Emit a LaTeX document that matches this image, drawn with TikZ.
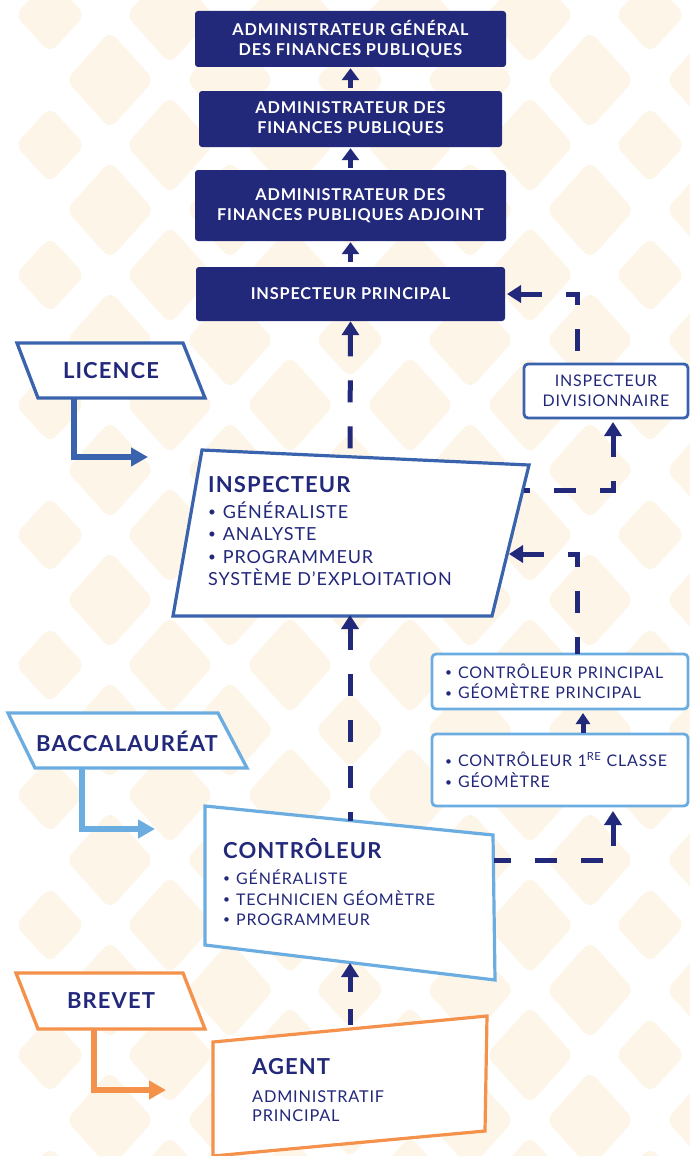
\documentclass[tikz,border=0pt]{standalone}
\usepackage{fontspec}
\usepackage{graphicx}
\setmainfont{Lato}[LetterSpace=5]
\usetikzlibrary{arrows.meta}
\definecolor{navy}{HTML}{22287A}
\definecolor{midblue}{HTML}{3A63AE}
\definecolor{skyblue}{HTML}{6BADE0}
\definecolor{orng}{HTML}{F4914A}
\definecolor{cream}{HTML}{FEF5E9}
\newcommand\mybul{\raisebox{0.1em}{\scalebox{0.75}{•}}\hspace{0.38em}}
\tikzset{
  topbox/.style={fill=navy, rounded corners=3pt, inner sep=0pt, text=white, align=center,
    font=\fontsize{16.3}{20}\selectfont\bfseries},
  solidarr/.style={draw=navy, line width=5pt, -{Triangle[width=17pt,length=12pt]}},
  smallarr/.style={draw=navy, line width=5pt, -{Triangle[width=14pt,length=11pt]}},
  dconn/.style={draw=navy, line width=5pt, dash pattern=on 22pt off 24pt, line join=miter},
  ctip/.style={{Triangle[width=17pt,length=14pt]}-},
  quad/.style={fill=white, line width=3.2pt, line join=miter},
  para/.style={fill=white, line width=3.3pt, line join=miter},
  elbow/.style={line width=5.5pt, line join=miter, -{Triangle[width=18pt,length=17pt]}},
  headtxt/.style={text=navy, anchor=base west, inner sep=0pt, font=\fontsize{22}{26}\selectfont\bfseries},
  bodytxt/.style={text=navy, anchor=base west, inner sep=0pt},
  paratxt/.style={text=navy, inner sep=0pt, font=\fontsize{22}{26}\selectfont\bfseries},
  rbox/.style={fill=white, rounded corners=4pt, line width=2.8pt, text=navy, inner ysep=0pt}
}
\begin{document}
\begin{tikzpicture}[x=1pt,y=-1pt]
\useasboundingbox (0,0) rectangle (690,1156);
\fill[white] (0,0) rectangle (690,1156);
% background pattern
\begin{scope}
\clip (0,0) rectangle (690,1156);
\foreach \i in {0,...,11}{
  \foreach \j in {-1,...,18}{
    \pgfmathtruncatemacro\pp{mod(\i+\j+2,2)}
    \ifnum\pp=0
      \pgfmathtruncatemacro\sm{mod(\i,5)}
      \ifnum\sm=0 \def\ha{35}\def\hb{38}\else\def\ha{44}\def\hb{49}\fi
      \pgfmathsetmacro\cx{50+60*\i}
      \pgfmathsetmacro\cy{15+65*\j}
      \fill[cream, rounded corners=9pt] (\cx-\ha,\cy) -- (\cx,\cy-\hb) -- (\cx+\ha,\cy) -- (\cx,\cy+\hb) -- cycle;
    \fi
  }
}
\end{scope}

% top boxes
\node[topbox, minimum width=311pt, minimum height=56pt] (agfp) at (350.5,39) {ADMINISTRATEUR GÉNÉRAL\\DES FINANCES PUBLIQUES};
\node[topbox, minimum width=303pt, minimum height=56pt] (afp) at (350.5,119) {ADMINISTRATEUR DES\\FINANCES PUBLIQUES};
\node[topbox, minimum width=311pt, minimum height=71pt] (afpa) at (350.5,205.5) {ADMINISTRATEUR DES\\FINANCES PUBLIQUES ADJOINT};
\node[topbox, minimum width=309pt, minimum height=54pt] (ip) at (350.5,294) {INSPECTEUR PRINCIPAL};

\draw[solidarr] ([yshift=3pt]afp.north) -- ([yshift=-1pt]agfp.south);
\draw[solidarr] ([yshift=2pt]afpa.north) -- ([yshift=-1pt]afp.south);
\draw[solidarr] ([yshift=5pt]ip.north) -- ([yshift=-1pt]afpa.south);

% parallelograms (diplomas)
\draw[para, draw=midblue] (17,343) -- (183,343) -- (205,398) -- (38,398) -- cycle;
\node[paratxt] (lic) at (111,371) {LICENCE};
\draw[para, draw=skyblue] (8,713) -- (218,713) -- (247,768) -- (35,768) -- cycle;
\node[paratxt] (bac) at (127,741) {BACCALAURÉAT};
\draw[para, draw=orng] (16,973) -- (183,973) -- (205,1029) -- (38,1029) -- cycle;
\node[paratxt] (brev) at (111,1001) {BREVET};

% elbow arrows
\coordinate (licB) at (74,398); \coordinate (licE) at (148,457);
\draw[elbow, midblue] (licB) |- (licE);
\coordinate (bacB) at (82,768); \coordinate (bacE) at (155,829);
\draw[elbow, skyblue] (bacB) |- (bacE);
\coordinate (brevB) at (94,1029); \coordinate (brevE) at (166,1090);
\draw[elbow, orng] (brevB) |- (brevE);

% INSPECTEUR
\draw[quad, draw=midblue] (202,450) -- (529,465) -- (492,616) -- (173,616) -- cycle;
\node[headtxt] (inspH) at (208,492) {INSPECTEUR};
\begin{scope}[every node/.style={bodytxt, font=\fontsize{18}{22}\selectfont}]
\node (insp1) at (208,518) {\mybul GÉNÉRALISTE};
\node (insp2) at (208,540) {\mybul ANALYSTE};
\node (insp3) at (208,563) {\mybul PROGRAMMEUR};
\node (insp4) at (208,585) {SYSTÈME D’EXPLOITATION};
\end{scope}

% CONTROLEUR
\draw[quad, draw=skyblue] (205,806) -- (493,835) -- (495,980) -- (205,945) -- cycle;
\node[headtxt] (ctrH) at (223,858) {CONTRÔLEUR};
\begin{scope}[every node/.style={bodytxt, font=\fontsize{16}{19}\selectfont}]
\node (ctr1) at (223,884) {\mybul GÉNÉRALISTE};
\node (ctr2) at (223,905) {\mybul TECHNICIEN GÉOMÈTRE};
\node (ctr3) at (223,925) {\mybul PROGRAMMEUR};
\end{scope}

% AGENT
\draw[quad, draw=orng] (213,1042) -- (487,1016) -- (485,1131) -- (213,1156) -- cycle;
\node[headtxt] (agH) at (252,1074) {AGENT};
\begin{scope}[every node/.style={bodytxt, font=\fontsize{16.3}{20}\selectfont}]
\node (ag1) at (252,1102) {ADMINISTRATIF};
\node (ag2) at (252,1121) {PRINCIPAL};
\end{scope}

% right boxes
\node[rbox, draw=midblue, minimum width=164pt, minimum height=54pt, align=center,
  font=\fontsize{16}{20}\selectfont] (div) at (606,391) {INSPECTEUR\\DIVISIONNAIRE};
\node[rbox, draw=skyblue, text width=230pt, align=left, inner xsep=13pt, minimum height=55pt,
  font=\fontsize{16}{20.5}\selectfont] (cp) at (560,681.5) {\mybul CONTRÔLEUR PRINCIPAL\\\mybul GÉOMÈTRE PRINCIPAL};
\node[rbox, draw=skyblue, text width=230pt, align=left, inner xsep=13pt, minimum height=72pt,
  font=\fontsize{16}{21}\selectfont] (c1) at (560,770) {\mybul CONTRÔLEUR 1\textsuperscript{RE} CLASSE\\\mybul GÉOMÈTRE};

% connectors
\coordinate (inspT) at (350,457);
\coordinate (inspB) at (350,615);
\coordinate (ctrT) at (350,821);
\coordinate (ctrB) at (350,963);
\coordinate (agT) at (350,1029);
\draw[dconn, ctip] (ip.south) -- (inspT);
\draw[dconn, ctip] (inspB) -- (ctrT);
\draw[dconn, ctip, dash pattern=on 16pt off 17pt] (ctrB) -- (agT);

\coordinate (ipR) at (507,294);
\coordinate (divTL) at (577,364);
\draw[dconn, ctip] (ipR) -| (divTL);
\coordinate (divB) at (613,422);
\coordinate (inspR1) at (524,490);
\draw[dconn, ctip] (divB) |- (inspR1);
\coordinate (inspR2) at (509,554);
\coordinate (cpT) at (577,654);
\draw[dconn, ctip] (inspR2) -| (cpT);
\coordinate (c1B) at (613,811);
\coordinate (ctrR) at (494,860);
\draw[dconn, ctip] (c1B) |- (ctrR);
\coordinate (c1T) at (583,733);
\coordinate (cpB) at (583,713);
\draw[smallarr] (c1T) -- (cpB);
\end{tikzpicture}
\end{document}
